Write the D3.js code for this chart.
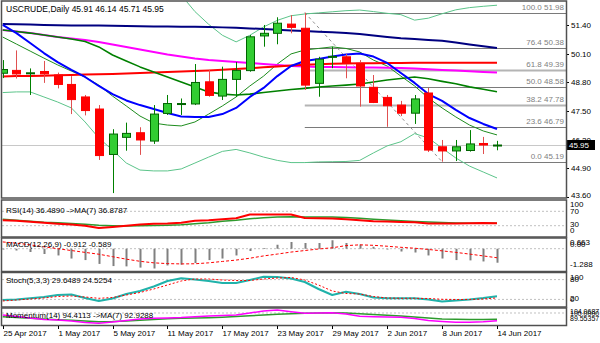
<!DOCTYPE html>
<html><head><meta charset="utf-8">
<script src="https://cdn.jsdelivr.net/npm/d3@7"></script>
<style>
body{margin:0;background:#fff}
svg{display:block}
text{font-family:"Liberation Sans",Arial,sans-serif}
</style>
</head><body>
<svg id="chart" width="600" height="343"></svg>
<script>
// ---- USCRUDE daily, 25 Apr 2017 - 14 Jun 2017 ----
const dates = ["25 Apr","26 Apr","27 Apr","28 Apr","1 May","2 May","3 May","4 May","5 May","8 May","9 May","10 May","11 May","12 May","15 May","16 May","17 May","18 May","19 May","22 May","23 May","24 May","25 May","26 May","29 May","30 May","31 May","1 Jun","2 Jun","5 Jun","6 Jun","7 Jun","8 Jun","9 Jun","12 Jun","13 Jun","14 Jun"];
const open  = [49.22,49.35,49.21,49.30,49.14,48.71,48.14,47.59,45.52,46.30,46.51,46.13,47.39,47.82,47.82,48.83,48.18,48.94,49.34,50.92,51.04,51.46,51.27,48.76,49.96,49.97,49.67,48.58,48.12,47.77,47.40,48.32,45.87,45.68,45.70,46.02,45.91];
const high  = [49.82,50.26,49.44,49.78,49.25,49.09,48.23,47.77,46.67,46.97,46.76,47.77,48.23,48.07,49.64,49.37,49.52,49.73,50.96,51.42,51.77,51.87,51.98,49.97,50.43,50.10,49.82,49.14,48.23,47.96,48.23,48.55,46.18,46.18,46.63,46.32,46.14];
const low   = [49.00,48.98,48.23,48.78,48.53,47.36,47.30,45.27,43.76,45.69,45.50,46.00,47.32,47.32,47.77,48.15,48.00,48.14,49.29,50.43,50.54,51.04,48.46,48.15,49.45,48.99,47.70,47.86,46.78,47.27,46.91,45.63,45.19,45.22,45.65,45.54,45.71];
const close = [49.39,49.19,49.24,49.19,48.71,48.02,47.52,45.47,46.45,46.48,46.18,47.36,47.84,47.84,48.80,48.21,48.94,49.35,50.88,51.04,51.50,51.31,48.68,49.86,49.99,49.67,48.64,47.89,47.74,47.40,48.05,45.72,45.68,45.87,46.00,45.95,45.95];

// moving averages on price
const maNavy    = [51.46,51.45,51.44,51.42,51.41,51.40,51.40,51.39,51.38,51.37,51.36,51.35,51.35,51.34,51.34,51.33,51.31,51.29,51.26,51.24,51.20,51.17,51.14,51.11,51.09,51.05,51.01,50.94,50.87,50.81,50.78,50.74,50.70,50.62,50.53,50.45,50.37];
const maMagenta = [51.19,51.12,51.05,50.96,50.87,50.80,50.73,50.64,50.53,50.42,50.30,50.19,50.07,49.98,49.89,49.82,49.78,49.73,49.69,49.64,49.60,49.55,49.53,49.51,49.50,49.49,49.48,49.48,49.47,49.46,49.44,49.40,49.37,49.34,49.31,49.28,49.25];
const maRed     = [49.07,49.09,49.10,49.11,49.13,49.14,49.16,49.18,49.19,49.21,49.23,49.25,49.28,49.30,49.32,49.35,49.38,49.41,49.45,49.49,49.53,49.57,49.61,49.63,49.65,49.66,49.67,49.68,49.69,49.69,49.70,49.70,49.70,49.70,49.70,49.70,49.70];
const maBlue    = [51.42,51.05,50.60,50.14,49.73,49.37,49.05,48.64,48.27,47.98,47.77,47.59,47.41,47.25,47.23,47.23,47.36,47.64,48.14,48.55,49.09,49.55,49.78,49.87,49.98,50.07,50.12,49.98,49.69,49.23,48.78,48.27,47.96,47.55,47.18,46.91,46.68];
const maThin    = [50.87,50.55,50.23,49.91,49.60,49.32,49.05,48.68,48.18,47.73,47.27,46.95,46.86,46.82,47.00,47.36,47.73,48.14,48.64,49.09,49.64,50.10,50.28,50.35,50.42,50.35,50.19,49.82,49.55,49.09,48.64,48.09,47.64,47.23,46.86,46.59,46.41];
const bbMid     = [51.19,51.12,51.05,50.96,50.87,50.78,50.67,50.42,50.05,49.78,49.51,49.28,49.05,48.82,48.59,48.37,48.27,48.23,48.27,48.34,48.41,48.48,48.53,48.59,48.64,48.68,48.73,48.82,48.91,48.98,49.05,48.97,48.85,48.74,48.60,48.49,48.38];
const bbUpper   = [54.04,53.87,53.73,53.78,53.83,53.92,54.34,54.57,54.38,54.43,54.21,53.79,53.33,52.78,52.03,51.45,50.95,50.65,50.95,51.33,51.63,51.84,51.92,51.97,52.02,52.07,52.10,52.03,51.95,51.89,51.64,51.73,51.93,52.11,52.21,52.27,52.32];
const bbLower   = [48.34,48.37,48.37,48.14,47.91,47.64,47.00,46.27,45.72,45.13,44.81,44.77,44.77,44.86,45.13,45.40,45.66,45.75,45.59,45.40,45.25,45.15,45.15,45.18,45.19,45.20,45.25,45.59,45.91,46.10,46.47,46.27,45.81,45.36,44.99,44.72,44.45];

// Fibonacci retracement 25 May high -> 8 Jun low
const fibRatios = [100.0, 76.4, 61.8, 50.0, 38.2, 23.6, 0.0];
const fibPrices = [51.98, 50.38, 49.39, 48.58, 47.78, 46.79, 45.19];
const fibFrom = 22, fibTo = 32;

// oscillators
const rsi     = [45.1,43.7,40.8,38.0,35.2,33.0,29.6,23.4,26.2,29.6,33.0,35.2,35.8,38.0,43.7,45.1,47.9,50.7,61.1,61.1,61.1,61.1,51.5,50.7,49.9,47.9,45.1,42.3,41.4,40.3,39.4,35.8,35.8,35.8,36.6,37.2,36.489];
const rsiMA   = [47.9,45.1,42.3,39.4,38.0,35.8,33.8,31.5,30.1,29.0,29.6,30.4,31.0,32.4,35.2,38.0,42.3,45.1,49.3,52.1,54.4,54.9,54.4,54.4,54.4,53.0,50.7,47.9,45.9,43.7,41.7,40.3,38.6,37.2,36.6,36.6,36.8787];
const macdMain   = [-0.05,-0.11,-0.22,-0.35,-0.44,-0.64,-0.74,-0.99,-1.13,-1.15,-1.23,-1.288,-1.09,-1.04,-0.93,-0.74,-0.64,-0.44,-0.15,0.05,0.25,0.43,0.37,0.37,0.55,0.37,0.28,0.13,-0.05,-0.18,-0.24,-0.44,-0.64,-0.74,-0.76,-0.83,-0.912];
const macdSignal = [0.44,0.36,0.25,0.12,0.0,-0.12,-0.24,-0.36,-0.52,-0.68,-0.82,-0.92,-0.97,-0.99,-0.98,-0.92,-0.83,-0.74,-0.62,-0.47,-0.35,-0.22,-0.12,-0.02,0.06,0.20,0.25,0.22,0.16,0.09,0.03,-0.05,-0.14,-0.24,-0.35,-0.47,-0.589];
const stochMain   = [18.2,19.7,23.3,27.3,33.3,34.8,24.2,15.2,22.7,36.4,45.5,59.1,75.8,83.9,80.3,75.8,69.7,69.7,78.8,88.8,87.9,83.3,72.7,51.5,33.3,43.3,36.4,25.8,23.3,23.3,23.3,19.7,13.6,16.7,19.7,24.2,29.6489];
const stochSignal = [15.2,18.2,21.2,24.2,28.8,30.3,27.3,23.3,25.8,33.3,40.9,51.5,63.6,75.8,81.8,81.8,78.8,77.3,77.3,81.8,84.8,86.4,78.8,63.6,45.5,37.9,36.4,28.8,24.2,23.3,23.3,22.7,20.3,19.7,19.7,21.2,24.5254];
const momentum   = [96.63,95.90,95.18,94.54,93.91,93.36,92.73,92.09,92.27,92.73,93.36,94.09,94.72,95.18,95.45,95.72,96.18,96.81,97.54,98.17,98.81,99.26,99.71,99.98,100.26,99.98,99.35,98.63,97.90,97.26,96.36,95.45,94.54,94.27,94.09,94.09,94.4113];
const momentumMA = [98.17,96.81,95.45,94.09,93.63,92.73,91.37,90.64,91.82,93.18,94.54,95.18,95.45,95.90,96.63,97.26,97.72,98.17,99.98,101.80,102.71,101.17,99.71,99.98,100.26,99.08,96.99,96.63,96.36,96.08,95.00,93.18,92.27,91.55,91.55,92.09,92.9288];

// axis labels
const priceTicks = [51.40, 50.10, 48.80, 47.50, 46.20, 44.90, 43.60];
const dateTickIdx = [0,4,8,12,16,20,24,28,32,36];
const dateTickText = ["25 Apr 2017","1 May 2017","5 May 2017","11 May 2017","17 May 2017","23 May 2017","29 May 2017","2 Jun 2017","8 Jun 2017","14 Jun 2017"];

const svg = d3.select("#chart");
const L = 2, R = 566;
const P = {
  main:  [1.5, 197.5],
  rsi:   [200.5, 236.5],
  macd:  [238.5, 271],
  stoch: [273, 306.5],
  mom:   [308.5, 325]
};
const idx = d3.range(dates.length);
const x = d3.scaleLinear().domain([0, 36]).range([2.7, 497]);
const y = d3.scaleLinear().domain([43.60, 51.40]).range([196.6, 25.4]);

svg.append("rect").attr("width",600).attr("height",343).attr("fill","#fff");

const defs = svg.append("defs");
function clip(id, r){
  defs.append("clipPath").attr("id",id).append("rect")
    .attr("x",L).attr("y",r[0]).attr("width",R-L).attr("height",r[1]-r[0]);
}
Object.keys(P).forEach(k=>clip("clip-"+k, P[k]));

const FONT = 8;
function label(g, xx, yy, t, opt={}){
  return g.append("text").attr("x",xx).attr("y",yy).text(t)
    .attr("font-size", opt.size||FONT).attr("fill", opt.fill||"#000")
    .attr("text-anchor", opt.anchor||"start")
    .attr("dominant-baseline","middle");
}
function line(g, data, sy, color, w, dash){
  const gen = d3.line().x((d,i)=>x(i)).y(d=>sy(d));
  const p = g.append("path").attr("d", gen(data)).attr("fill","none")
    .attr("stroke", color).attr("stroke-width", w).attr("stroke-linejoin","round");
  if (dash) p.attr("stroke-dasharray", dash);
  return p;
}

// ---------- main panel ----------
const gMain = svg.append("g").attr("clip-path","url(#clip-main)");

// Fibonacci levels
const fx0 = x(fibFrom);
fibPrices.forEach((v,i)=>{
  const yy = Math.round(y(v))+0.5;
  const thick = (fibRatios[i]===61.8 || fibRatios[i]===38.2);
  gMain.append("line").attr("x1",fx0).attr("x2",R).attr("y1",yy).attr("y2",yy)
    .attr("stroke", thick ? "#b4b4b4" : "#7a7a7a").attr("stroke-width", thick ? 2 : 1);
  label(gMain, R-2, yy-6, fibRatios[i].toFixed(1)+" "+v.toFixed(2), {anchor:"end", fill:"#808080"});
});
gMain.append("line").attr("x1",fx0).attr("y1",y(fibPrices[0])).attr("x2",x(fibTo)).attr("y2",y(fibPrices[6]))
  .attr("stroke","#909090").attr("stroke-width",1).attr("stroke-dasharray","3,3");

// current bid line
const bidY = Math.round(y(close[36]))+0.5;
gMain.append("line").attr("x1",L).attr("x2",R).attr("y1",bidY).attr("y2",bidY)
  .attr("stroke","#c8c8c8").attr("stroke-width",1);

// indicator lines
line(gMain, bbUpper, y, "#5cc48a", 1);
line(gMain, bbLower, y, "#5cc48a", 1);
line(gMain, maThin,  y, "#1e8c1e", 1);
line(gMain, maNavy,  y, "#000080", 2);
line(gMain, maMagenta, y, "#ff00ff", 2);
line(gMain, maRed,   y, "#ff0000", 2);
line(gMain, bbMid,   y, "#008000", 1.6);
line(gMain, maBlue,  y, "#0000ff", 2);

// candles
const cw = 9;
const candles = gMain.selectAll(".cdl").data(idx).enter().append("g");
candles.append("line")
  .attr("x1",i=>Math.round(x(i))+0.5).attr("x2",i=>Math.round(x(i))+0.5)
  .attr("y1",i=>y(high[i])).attr("y2",i=>y(low[i]))
  .attr("stroke",i=>close[i]>=open[i] ? "#008000" : "#e05050").attr("stroke-width",1);
candles.append("rect")
  .attr("x",i=>Math.round(x(i))-4+0.5)
  .attr("y",i=>y(Math.max(open[i],close[i])))
  .attr("width",cw-1)
  .attr("height",i=>Math.max(1, Math.abs(y(open[i])-y(close[i]))))
  .attr("fill",i=>close[i]>=open[i] ? "#32cd32" : "#ff0000")
  .attr("stroke",i=>close[i]>=open[i] ? "#006400" : "#ff0000").attr("stroke-width",1);

label(svg, 6, 9.5, "USCRUDE,Daily  45.91 46.14 45.71 45.95", {size:8.5});

// price axis
const gAx = svg.append("g");
priceTicks.forEach(v=>{
  const yy = Math.round(y(v))+0.5;
  gAx.append("line").attr("x1",R).attr("x2",R+3).attr("y1",yy).attr("y2",yy).attr("stroke","#000");
  label(gAx, R+5, Math.min(yy, P.main[1]-2), v.toFixed(2));
});
gAx.append("rect").attr("x",R+1).attr("y",bidY-5.5).attr("width",28).attr("height",10).attr("fill","#000");
label(gAx, R+3, bidY, close[36].toFixed(2), {fill:"#fff"});

// ---------- RSI ----------
const yR = d3.scaleLinear().domain([0,100]).range([P.rsi[1], P.rsi[0]]);
const gR = svg.append("g").attr("clip-path","url(#clip-rsi)");
[70,30].forEach(v=>gR.append("line").attr("x1",L).attr("x2",R).attr("y1",yR(v)).attr("y2",yR(v))
  .attr("stroke","#c0c0c0").attr("stroke-dasharray","2,2"));
line(gR, rsiMA, yR, "#2e9a2e", 1.5);
line(gR, rsi, yR, "#ff0000", 2);
label(svg, 6, 211, "RSI(14) 36.4890  ->MA(7) 36.8787");
[[100,205],[70,212],[30,224.5],[0,231]].forEach(([v,yy])=>label(svg, R+4, yy, String(v)));

// ---------- MACD ----------
const yM = d3.scaleLinear().domain([-1.288, 0.663]).range([268.5, 238.5]);
const gM = svg.append("g").attr("clip-path","url(#clip-macd)");
gM.append("line").attr("x1",L).attr("x2",R).attr("y1",yM(0)).attr("y2",yM(0))
  .attr("stroke","#c0c0c0").attr("stroke-dasharray","2,2");
gM.selectAll(".hb").data(idx).enter().append("line")
  .attr("x1",i=>Math.round(x(i))+0.5).attr("x2",i=>Math.round(x(i))+0.5)
  .attr("y1",yM(0)).attr("y2",i=>yM(macdMain[i]))
  .attr("stroke","#808080").attr("stroke-width",2);
line(gM, macdSignal, yM, "#ff0000", 1, "3,2");
label(svg, 6, 245, "MACD(12,26,9) -0.912 -0.589");
label(svg, R+4, 243, "0.663");
label(svg, R+4, 245, "0.00");
label(svg, R+4, 265, "-1.288");

// ---------- Stochastic ----------
const yS = d3.scaleLinear().domain([0,100]).range([P.stoch[1]-0.5, P.stoch[0]]);
const gS = svg.append("g").attr("clip-path","url(#clip-stoch)");
[80,20].forEach(v=>gS.append("line").attr("x1",L).attr("x2",R).attr("y1",yS(v)).attr("y2",yS(v))
  .attr("stroke","#c0c0c0").attr("stroke-dasharray","2,2"));
line(gS, stochMain, yS, "#20b2aa", 2);
line(gS, stochSignal, yS, "#ff0000", 1, "2,2");
label(svg, 6, 281, "Stoch(5,3,3) 29.6489 24.5254");
label(svg, R+4, 278, "100");
label(svg, R+4, 279.5, "80");
label(svg, R+4, 298.5, "20");
label(svg, R+4, 300, "0");

// ---------- Momentum ----------
const yO = d3.scaleLinear().domain([89.55357, 104.0687]).range([P.mom[1]-0.5, P.mom[0]]);
const gO = svg.append("g").attr("clip-path","url(#clip-mom)");
gO.append("line").attr("x1",L).attr("x2",R).attr("y1",yO(100)).attr("y2",yO(100))
  .attr("stroke","#c0c0c0").attr("stroke-dasharray","2,2");
line(gO, momentum, yO, "#2e9a2e", 1.5);
line(gO, momentumMA, yO, "#ff00ff", 1.5);
label(svg, 6, 316, "Momentum(14) 94.4113  ->MA(7) 92.9288");
label(svg, R+4, 312.5, "104.0687", {size:7});
label(svg, R+4, 314, "100.0000", {size:7});
label(svg, R+4, 319.5, "89.55357", {size:7});

// ---------- frames ----------
Object.values(P).forEach(r=>{
  svg.append("rect").attr("x",L-0.5).attr("y",r[0]-0.5).attr("width",R-L+1).attr("height",r[1]-r[0]+1)
    .attr("fill","none").attr("stroke","#505050").attr("stroke-width",1.5);
});

// ---------- date axis ----------
dateTickIdx.forEach((i,k)=>{
  const xx = Math.round(x(i))+0.5;
  svg.append("line").attr("x1",xx).attr("x2",xx).attr("y1",P.mom[1]+1).attr("y2",P.mom[1]+4).attr("stroke","#000");
  label(svg, xx, 333.5, dateTickText[k]);
});
</script>
</body></html>
